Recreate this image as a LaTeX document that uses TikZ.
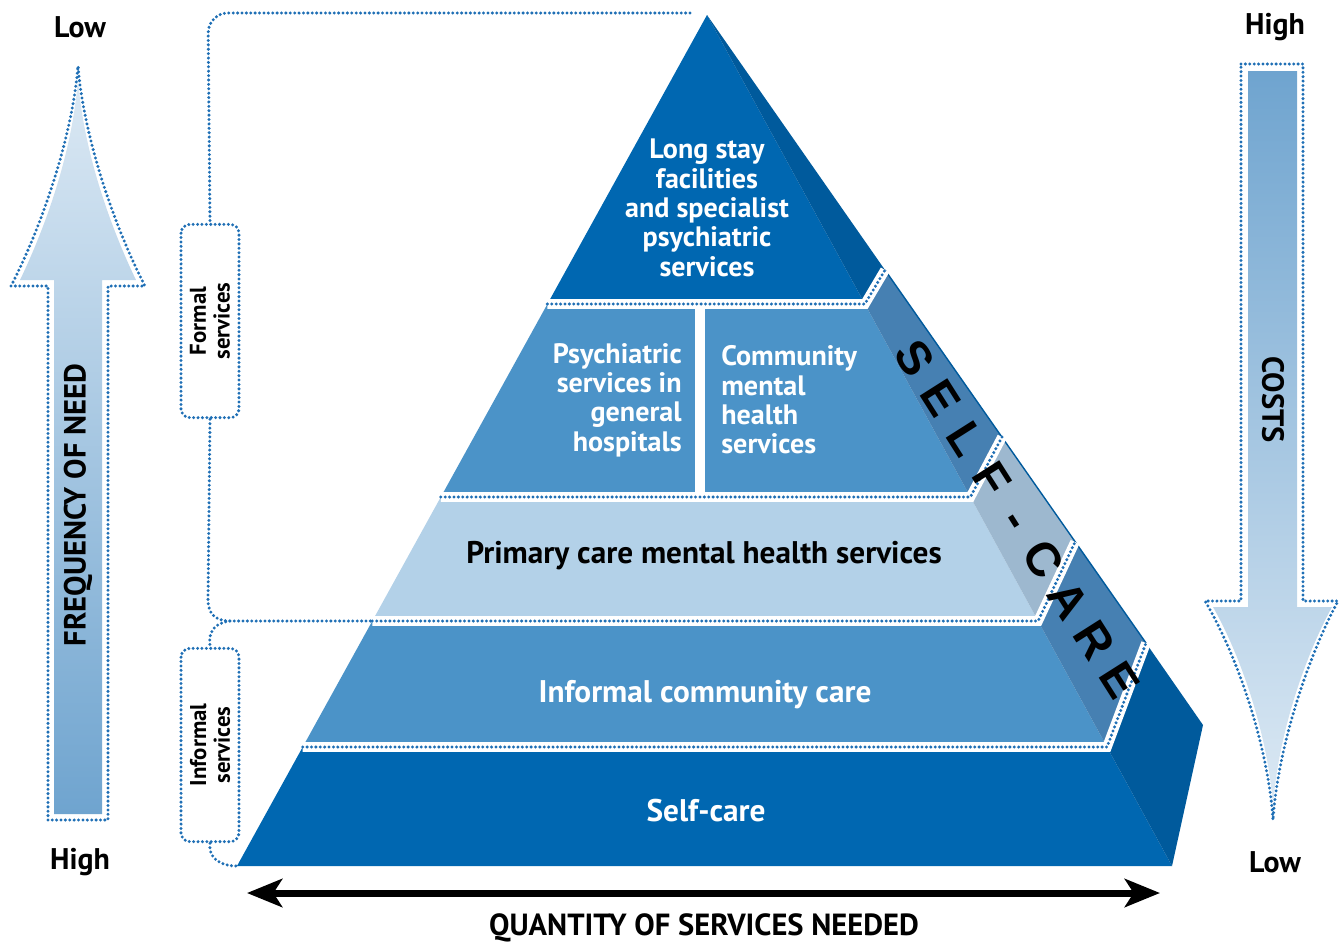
\documentclass[tikz,border=0pt]{standalone}
\usepackage{fontspec}
\setmainfont{PT Sans}
\newfontfamily\selffont{Liberation Sans}
\usetikzlibrary{arrows.meta}

\definecolor{deepblue}{HTML}{0067B1}
\definecolor{deepside}{HTML}{005A9C}
\definecolor{midblue}{HTML}{4B93C8}
\definecolor{midside}{HTML}{4680B2}
\definecolor{paleblue}{HTML}{B3D1E8}
\definecolor{paleside}{HTML}{9DB8CF}
\definecolor{dotblue}{HTML}{1F6FB5}
\definecolor{arrowlight}{HTML}{DCE9F4}
\definecolor{arrowdark}{HTML}{6FA4CF}

\newcommand{\selfcell}[1]{\makebox[27.17pt]{#1}}

\tikzset{
  dots/.style={draw=dotblue, line width=1.9pt, dash pattern=on 0pt off 2.5pt, line cap=round},
  gap/.style={draw=white, line width=5.5pt},
  pyrtext/.style={text=white, align=center, inner sep=0pt, font=\bfseries\fontsize{16}{16.7}\selectfont},
  bandtext/.style={inner sep=0pt, font=\bfseries\fontsize{17.8}{20}\selectfont},
  endlabel/.style={inner sep=0pt, font=\bfseries\fontsize{17}{20}\selectfont},
  axislabel/.style={inner sep=0pt, font=\bfseries\fontsize{17.4}{20}\selectfont},
  svcbox/.style={dots, rounded corners=5pt, rotate=90, minimum width=110pt, minimum height=33pt,
    align=center, inner sep=0pt, font=\bfseries\fontsize{13}{13.5}\selectfont},
  selfband/.style={inner sep=0pt, rotate=-57.6, font=\selffont\bfseries\fontsize{27}{27}\selectfont}
}

\begin{document}
\begin{tikzpicture}[x=0.02cm, y=-0.02cm]
	\useasboundingbox (0,0) rectangle (1339,944);

	% frequency arrow
	\shade[top color=arrowlight, bottom color=arrowdark] (54,814) -- (54,280) -- (20,280) .. controls (46,226) and (73,150) .. (78,78) .. controls (83,150) and (110,226) .. (136,280) -- (102,280) -- (102,814) -- cycle;
	\draw[dots] (48,820) -- (48,286) -- (11,286) .. controls (40,230) and (72,140) .. (78,66) .. controls (84,140) and (116,230) .. (145,286) -- (108,286) -- (108,820) -- cycle;
	\node[axislabel, rotate=90] (freq) at (78,505) {FREQUENCY OF NEED};
	\node[endlabel] (freqlow) at (80,27) {Low};
	\node[endlabel] (freqhigh) at (80,862) {High};

	% costs arrow
	\shade[top color=arrowdark, bottom color=arrowlight] (1248,71) -- (1297,71) -- (1297,607) -- (1332,607) .. controls (1303,660) and (1277,740) .. (1273,808) .. controls (1269,740) and (1243,660) .. (1213,607) -- (1248,607) -- cycle;
	\draw[dots] (1241,64) -- (1303,64) -- (1303,601) -- (1338,601) .. controls (1309,655) and (1278,745) .. (1273,820) .. controls (1268,745) and (1237,655) .. (1205,601) -- (1241,601) -- cycle;
	\node[axislabel, rotate=-90] (costs) at (1273,400) {COSTS};
	\node[endlabel] (costhigh) at (1275,27) {High};
	\node[endlabel] (costlow) at (1275,862) {Low};

	% brackets
	\node[svcbox] (formalbox) at (210,321) {Formal\\services};
	\node[svcbox] (informalbox) at (210,745) {Informal\\services};
	\coordinate (split) at (230,621);
	\coordinate (formaltop) at (690,13);
	\coordinate (pyrbase) at (237,866);
	\draw[dots, rounded corners=0.4cm] (formaltop) -- (208,13) -- (formalbox.east);
	\draw[dots] (formalbox.west) -- (208,600) .. controls (208,614) and (216,621) .. (split) -- (372,621);
	\draw[dots] (split) .. controls (214,623) and (208,632) .. (informalbox.east);
	\draw[dots] (informalbox.west) .. controls (208,858) and (220,866) .. (pyrbase);

	% pyramid faces
	\fill[deepblue] (707,15) -- (547.4,304) -- (864.9,304) -- cycle;
	\fill[deepside] (707,15) -- (864.9,304) -- (885,270) -- cycle;
	\fill[midblue] (547.4,304) -- (440.8,497) -- (970.4,497) -- (864.9,304) -- cycle;
	\fill[midside] (864.9,304) -- (970.4,497) -- (1002,437) -- (885,270) -- cycle;
	\fill[paleblue] (440.8,497) -- (372.3,621) -- (1038.1,621) -- (970.4,497) -- cycle;
	\fill[paleside] (970.4,497) -- (1038.1,621) -- (1075,542) -- (1002,437) -- cycle;
	\fill[midblue] (372.3,621) -- (302.7,747) -- (1107,747) -- (1038.1,621) -- cycle;
	\fill[midside] (1038.1,621) -- (1107,747) -- (1146,643) -- (1075,542) -- cycle;
	\fill[deepblue] (302.7,747) -- (237,866) -- (1172,866) -- (1107,747) -- cycle;
	\fill[deepside] (1107,747) -- (1172,866) -- (1203,725) -- (1146,643) -- cycle;
	\draw[deepside, line width=0.8pt] (885,270) -- (1146,643);

	% separators
	\draw[gap] (700,304) -- (700,497);
	\foreach \ya/\xa/\xb/\xo/\yo in {304/547.4/864.9/885/270, 497/440.8/970.4/1002/437, 621/372.3/1038.1/1075/542, 747/302.7/1107/1146/643} {
		\draw[gap] (\xa,\ya) -- (\xb,\ya) -- (\xo,\yo);
		\draw[dots] (\xa,\ya) -- (\xb,\ya) -- (\xo,\yo);
	}

	% texts
	\node[pyrtext] (longstay) at (707,208) {Long stay\\facilities\\and specialist\\psychiatric\\services};
	\node[pyrtext, align=right, anchor=east] (psych) at (682,400) {Psychiatric\\services in\\general\\hospitals};
	\node[pyrtext, align=left, anchor=west] (cmhs) at (721,400) {Community\\mental\\health\\services};
	\node[bandtext] (primary) at (704,556) {Primary care mental health services};
	\node[bandtext, text=white] (informal) at (705,695) {Informal community care};
	\node[bandtext, text=white] (selfcare) at (706,811) {Self-care};
	\node[selfband] (selfstrip) at (1017.4,519.2) {\selfcell{S}\selfcell{E}\selfcell{L}\selfcell{F}\selfcell{-}\selfcell{C}\selfcell{A}\selfcell{R}\selfcell{E}};

	% quantity arrow
	\coordinate (qleft) at (247,893);
	\coordinate (qright) at (1160,893);
	\draw[line width=4pt, {Stealth[length=20pt, width=16pt, inset=5pt]}-{Stealth[length=20pt, width=16pt, inset=5pt]}] (qleft) -- (qright);
	\node[axislabel] (quantity) at (704,928) {QUANTITY OF SERVICES NEEDED};
\end{tikzpicture}
\end{document}
